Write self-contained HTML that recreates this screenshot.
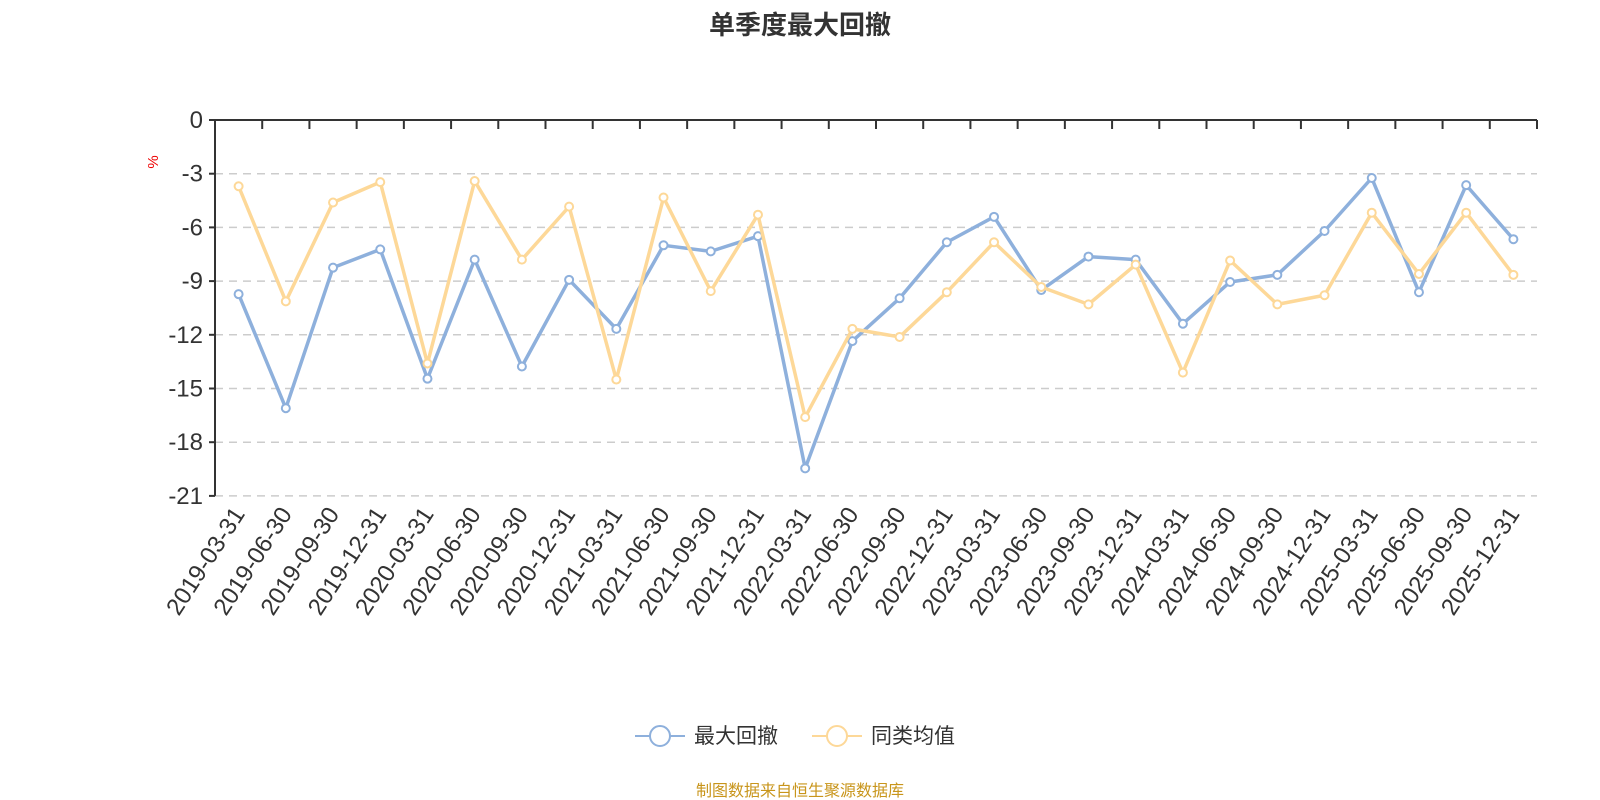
<!DOCTYPE html>
<html><head><meta charset="utf-8"><style>
html,body{margin:0;padding:0;background:#fff;}
svg{display:block;font-family:"Liberation Sans","Noto Sans CJK SC",sans-serif;}
</style></head><body>
<svg id="c" width="1600" height="800" xmlns="http://www.w3.org/2000/svg"></svg>
<script>
const blue=[-9.73,-16.1,-8.25,-7.23,-14.45,-7.8,-13.77,-8.93,-11.67,-7.0,-7.34,-6.49,-19.46,-12.35,-9.96,-6.83,-5.41,-9.5,-7.63,-7.8,-11.38,-9.05,-8.65,-6.2,-3.24,-9.62,-3.64,-6.66];
const yel=[-3.7,-10.13,-4.61,-3.47,-13.6,-3.41,-7.8,-4.84,-14.5,-4.33,-9.56,-5.29,-16.6,-11.67,-12.12,-9.62,-6.83,-9.33,-10.3,-8.08,-14.11,-7.85,-10.3,-9.79,-5.18,-8.6,-5.18,-8.65];
const cats=[];for(let y=2019;y<=2025;y++)for(const d of["03-31","06-30","09-30","12-31"])cats.push(y+"-"+d);
const X0=215,X1=1537,Y0=120,YU=17.9,n=28,w=(X1-X0)/n;
const X=i=>X0+w*(i+0.5),Y=v=>Y0-v*YU;
let s='';
s+=`<text x="800" y="34" text-anchor="middle" font-size="26" font-weight="bold" fill="#333">单季度最大回撤</text>`;
for(let k=0;k<=7;k++){const y=Y(-3*k);
 if(k>0)s+=`<line x1="${X0}" x2="${X1}" y1="${y}" y2="${y}" stroke="#ccc" stroke-width="1.5" stroke-dasharray="8,6"/>`;
 s+=`<line x1="${X0-6}" x2="${X0}" y1="${y}" y2="${y}" stroke="#333" stroke-width="2"/>`;
 s+=`<text x="${X0-12}" y="${y+8}" text-anchor="end" font-size="24" fill="#333">${k?'-'+3*k:0}</text>`;}
s+=`<line x1="${X0}" x2="${X0}" y1="${Y0}" y2="${Y(-21)}" stroke="#333" stroke-width="2"/>`;
s+=`<line x1="${X0}" x2="${X1}" y1="${Y0}" y2="${Y0}" stroke="#333" stroke-width="2"/>`;
for(let i=0;i<=n;i++){const x=X0+w*i;s+=`<line x1="${x}" x2="${x}" y1="${Y0}" y2="${Y0+9}" stroke="#333" stroke-width="2"/>`;}
s+=`<text transform="translate(158,162) rotate(-90)" text-anchor="middle" font-size="15" fill="#e00">%</text>`;
cats.forEach((c,i)=>{s+=`<text transform="translate(${X(i)+7},${Y(-21)+18}) rotate(-57)" text-anchor="end" font-size="24" fill="#333">${c}</text>`;});
function ser(d,col){let p=d.map((v,i)=>X(i)+','+Y(v)).join(' ');
 let r=`<polyline points="${p}" fill="none" stroke="${col}" stroke-width="3.5" stroke-linejoin="round"/>`;
 d.forEach((v,i)=>r+=`<circle cx="${X(i)}" cy="${Y(v)}" r="4" fill="#fff" stroke="${col}" stroke-width="2"/>`);return r;}
s+=ser(blue,'#8eb0dc');s+=ser(yel,'#fdd898');
s+=`<line x1="635" x2="685" y1="736" y2="736" stroke="#8eb0dc" stroke-width="2"/><circle cx="660" cy="736" r="10" fill="#fff" stroke="#8eb0dc" stroke-width="2"/>`;
s+=`<text x="694" y="743" font-size="21" fill="#333">最大回撤</text>`;
s+=`<line x1="812" x2="862" y1="736" y2="736" stroke="#fdd898" stroke-width="2"/><circle cx="837" cy="736" r="10" fill="#fff" stroke="#fdd898" stroke-width="2"/>`;
s+=`<text x="871" y="743" font-size="21" fill="#333">同类均值</text>`;
s+=`<text x="800" y="796" text-anchor="middle" font-size="16" fill="#c8951b">制图数据来自恒生聚源数据库</text>`;
document.getElementById('c').innerHTML=s;
</script>
</body></html>
